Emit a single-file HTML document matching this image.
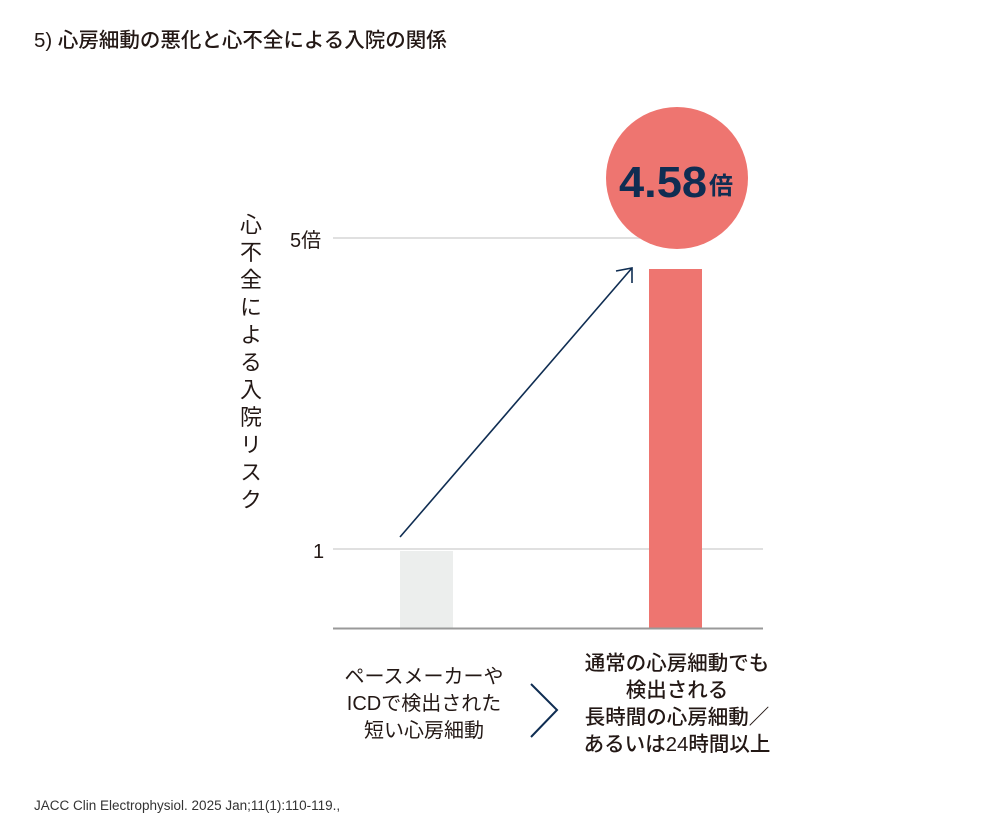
<!DOCTYPE html>
<html><head><meta charset="utf-8"><style>
html,body{margin:0;padding:0;background:#fff;}
body{width:1008px;height:840px;position:relative;overflow:hidden;font-family:"Liberation Sans","Noto Sans CJK JP",sans-serif;color:#231815;}
.t{position:absolute;white-space:nowrap;}
</style></head><body>
<div class="t" style="left:34px;top:23px;font-size:20.5px;font-weight:500;">5) 心房細動の悪化と心不全による入院の関係</div>
<svg width="1008" height="840" style="position:absolute;left:0;top:0">
<line x1="333" y1="238" x2="640" y2="238" stroke="#e0e0e0" stroke-width="2"/>
<line x1="333" y1="549" x2="763" y2="549" stroke="#e0e0e0" stroke-width="2"/>
<rect x="400" y="551" width="53" height="77" fill="#eceeed"/>
<rect x="649" y="269" width="53" height="359" fill="#ee7570"/>
<line x1="333" y1="628.5" x2="763" y2="628.5" stroke="#999" stroke-width="2"/>
<circle cx="677" cy="178" r="71" fill="#ee7570"/>
<line x1="400" y1="537" x2="632" y2="268" stroke="#0f2d52" stroke-width="1.6"/>
<polyline points="616,271 632,268 632,283" fill="none" stroke="#0f2d52" stroke-width="1.6"/>
<polyline points="531,684 557,710 531,737" fill="none" stroke="#0f2d52" stroke-width="2"/>
<text x="619" y="197" font-family="Liberation Sans, sans-serif" font-weight="bold" font-size="44" fill="#0f2d52" textLength="88" lengthAdjust="spacingAndGlyphs">4.58</text>
<text x="709" y="194" font-family="Liberation Sans, Noto Sans CJK JP, sans-serif" font-weight="bold" font-size="24" fill="#0f2d52">倍</text>
<text x="290" y="247" font-size="20" fill="#231815" font-family="Liberation Sans, Noto Sans CJK JP, sans-serif">5倍</text>
<text x="313" y="558" font-size="20" fill="#231815" font-family="Liberation Sans, sans-serif">1</text>
</svg>
<div class="t" style="left:233px;top:213px;writing-mode:vertical-rl;font-size:22px;letter-spacing:5.5px;">心不全による入院リスク</div>
<div class="t" style="left:324px;top:664px;width:200px;text-align:center;font-size:20px;line-height:27px;">ペースメーカーや<br>ICDで検出された<br>短い心房細動</div>
<div class="t" style="left:562px;top:650px;width:230px;text-align:center;font-size:20.5px;line-height:27px;font-weight:500;">通常の心房細動でも<br>検出される<br>長時間の心房細動／<br>あるいは24時間以上</div>
<div class="t" style="left:34px;top:798px;font-size:13.5px;color:#333;">JACC Clin Electrophysiol. 2025 Jan;11(1):110-119.,</div>
</body></html>
